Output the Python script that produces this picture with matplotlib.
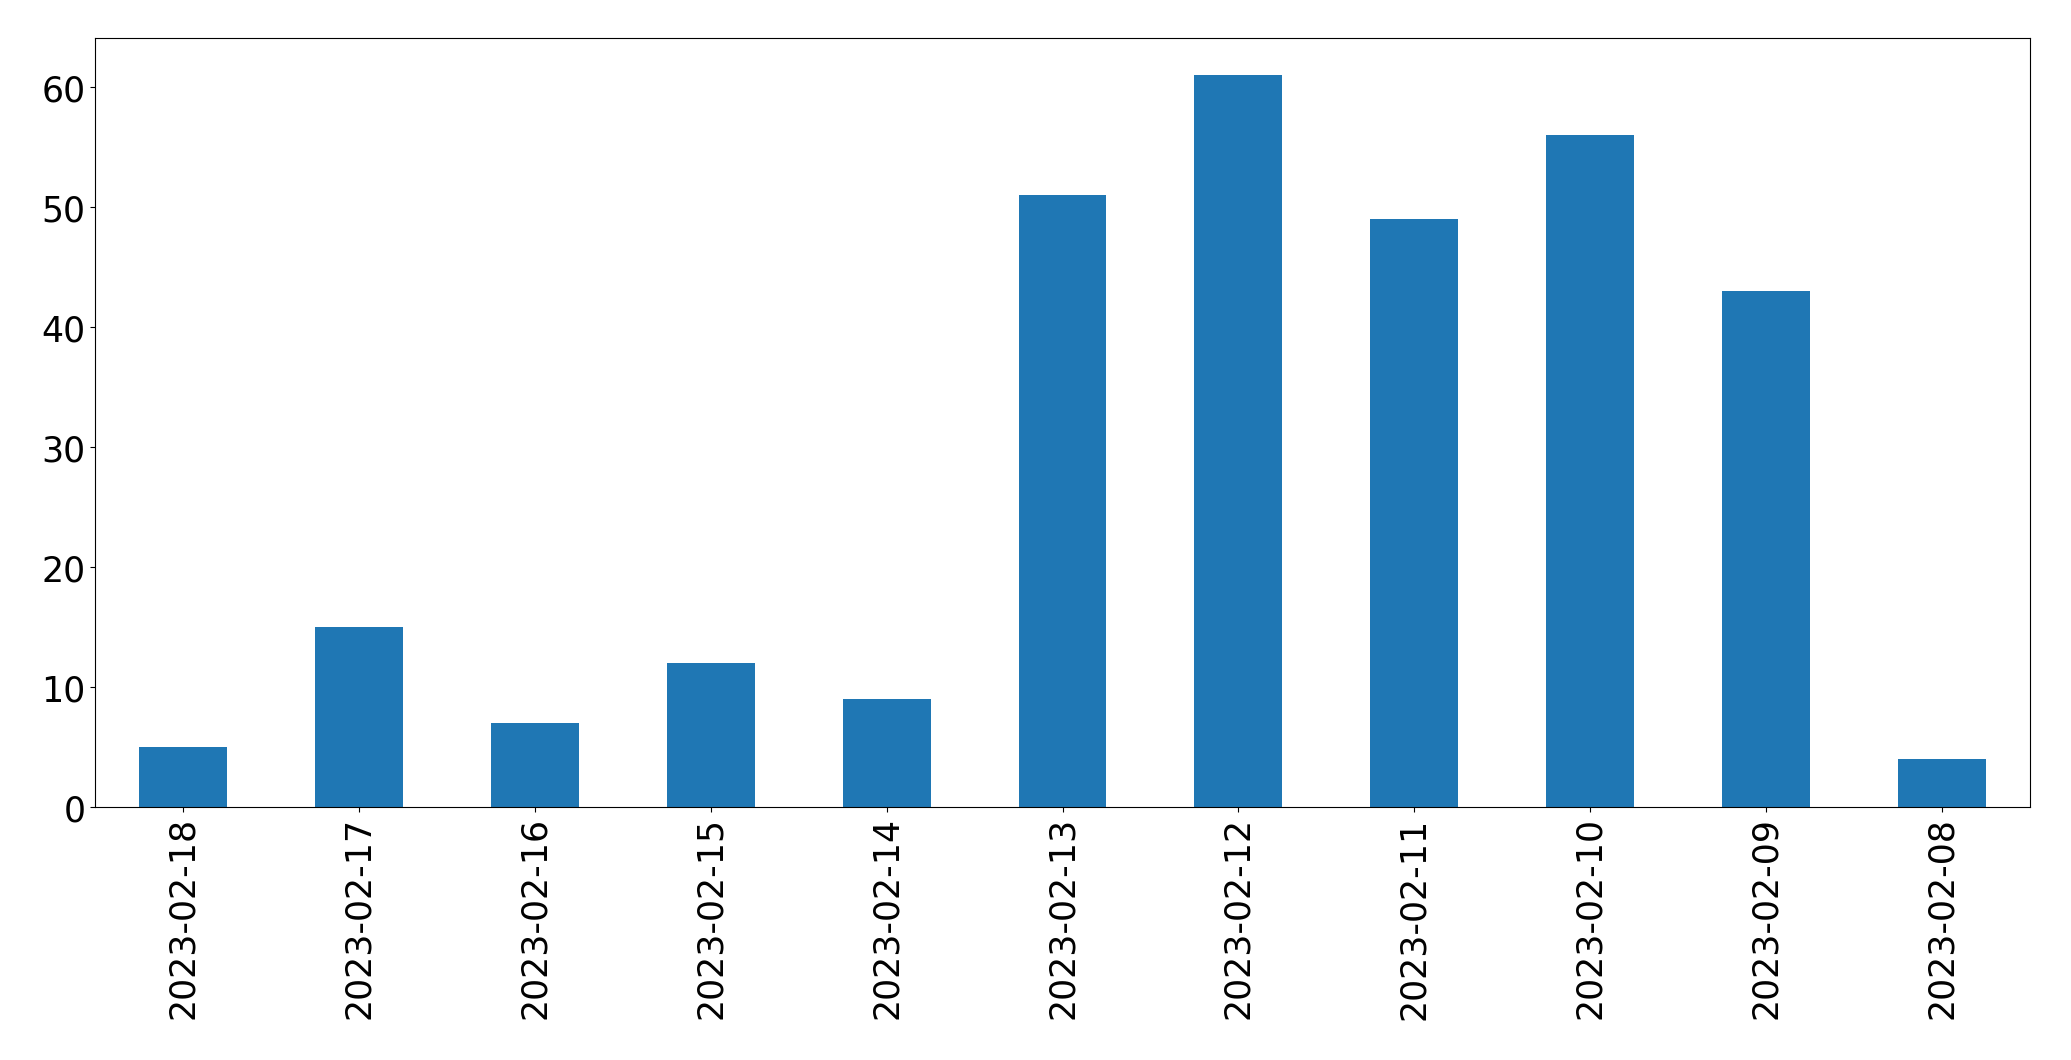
import matplotlib
matplotlib.use('Agg')
import matplotlib.pyplot as plt
import pandas as pd

dates = ['2023-02-18', '2023-02-17', '2023-02-16', '2023-02-15', '2023-02-14', '2023-02-13',
         '2023-02-12', '2023-02-11', '2023-02-10', '2023-02-09', '2023-02-08']
counts = [5, 15, 7, 12, 9, 51, 61, 49, 56, 43, 4]

s = pd.Series(counts, index=dates)

fig = plt.figure(figsize=(20.71, 10.605), dpi=100)
ax = fig.add_axes([95 / 2071, 1 - 808 / 1061, (2030 - 95) / 2071, (808 - 39) / 1061])
s.plot(kind='bar', ax=ax, color='#1f77b4')
ax.tick_params(labelsize=25)
plt.savefig('out.png', dpi=100)
